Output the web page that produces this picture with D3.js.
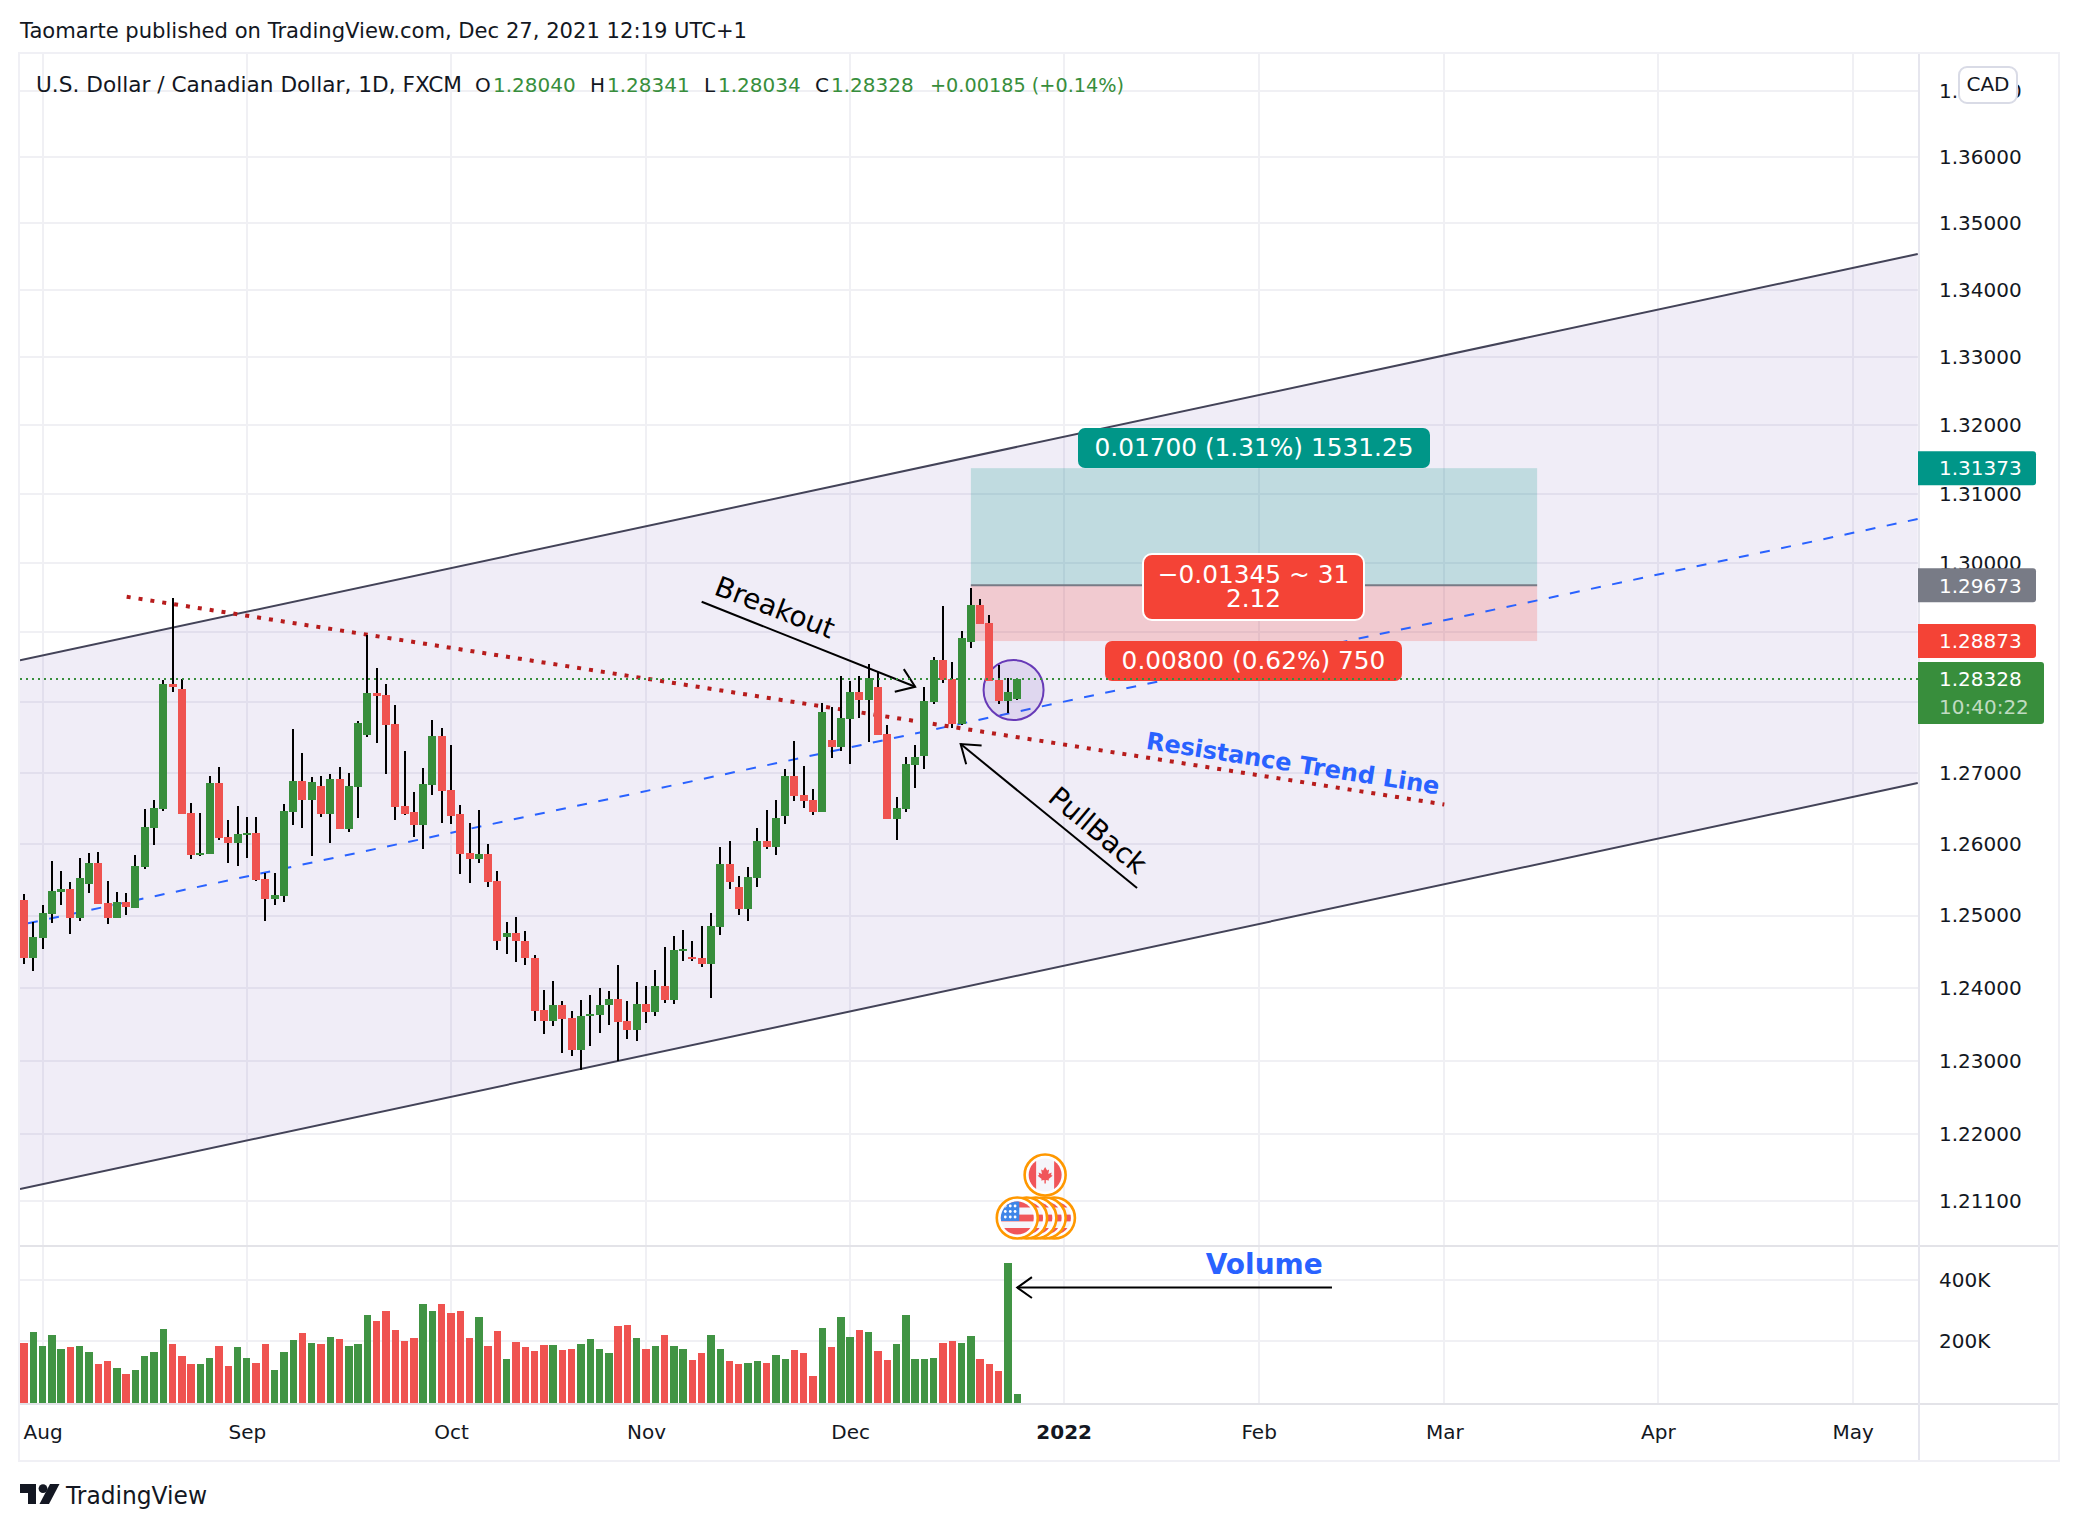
<!DOCTYPE html>
<html><head><meta charset="utf-8">
<script src="https://cdn.jsdelivr.net/npm/d3@7"></script>
<style>html,body{margin:0;padding:0;background:#fff}svg{display:block}text{font-family:"DejaVu Sans",sans-serif}</style>
</head><body><div id="chart"></div>
<script>
// --- candles, one entry per trading day through Dec 27 2021
const opens=[1.25218,1.24406,1.24682,1.25028,1.25329,1.25370,1.24972,1.25444,1.25731,1.25176,1.24972,1.25190,1.25111,1.25681,1.26225,1.26493,1.28256,1.28185,1.26432,1.25843,1.25861,1.26854,1.26094,1.26009,1.26122,1.26150,1.25509,1.25236,1.25278,1.26451,1.26883,1.26620,1.26812,1.26423,1.26911,1.26211,1.26803,1.27538,1.28128,1.28099,1.27689,1.26530,1.26446,1.26268,1.26831,1.27519,1.26756,1.26418,1.25870,1.25792,1.25856,1.25481,1.24696,1.24760,1.24650,1.24415,1.23697,1.23550,1.23766,1.23587,1.23151,1.23606,1.23633,1.23757,1.23849,1.23546,1.23427,1.23780,1.23661,1.24028,1.23839,1.24507,1.24429,1.24415,1.24336,1.24848,1.25718,1.25398,1.25097,1.25528,1.26038,1.25958,1.26394,1.26953,1.26685,1.26615,1.26451,1.27462,1.27368,1.27764,1.28142,1.28033,1.28213,1.27547,1.26352,1.26493,1.27113,1.27241,1.28000,1.28597,1.28327,1.27693,1.28858,1.29387,1.29126,1.28313,1.28019,1.28040];
const highs=[1.25301,1.24912,1.25148,1.25759,1.25620,1.25468,1.25801,1.25870,1.25884,1.25481,1.25329,1.25315,1.25843,1.26488,1.26615,1.28313,1.29488,1.28327,1.26573,1.26432,1.26953,1.27080,1.26333,1.26530,1.26376,1.26376,1.25593,1.25593,1.26559,1.27618,1.27278,1.26939,1.26953,1.26981,1.27080,1.26995,1.27731,1.28953,1.28483,1.28256,1.27958,1.27307,1.26728,1.27066,1.27745,1.27632,1.27392,1.26545,1.26291,1.26474,1.25995,1.25620,1.24912,1.24982,1.24788,1.24456,1.23972,1.24097,1.23821,1.23683,1.23835,1.23904,1.24000,1.23959,1.24318,1.23821,1.24083,1.24028,1.24249,1.24567,1.24719,1.24802,1.24650,1.24857,1.25037,1.25954,1.26038,1.25551,1.25676,1.26221,1.26474,1.26615,1.27052,1.27448,1.27094,1.26770,1.27986,1.27929,1.28370,1.28298,1.28370,1.28540,1.28426,1.27675,1.26657,1.27222,1.27392,1.28213,1.28640,1.29372,1.28569,1.29010,1.29633,1.29474,1.29242,1.28526,1.28341,1.28341];
const lows=[1.24323,1.24226,1.24530,1.24903,1.25153,1.24751,1.24931,1.25319,1.25167,1.24889,1.24972,1.25014,1.25111,1.25653,1.25986,1.26465,1.28142,1.26423,1.25792,1.25829,1.25861,1.26056,1.25736,1.25694,1.25806,1.25481,1.24931,1.25153,1.25194,1.26263,1.26225,1.25833,1.26380,1.26014,1.26211,1.26169,1.26366,1.27509,1.27425,1.26986,1.26338,1.26408,1.26099,1.25931,1.26690,1.26296,1.26282,1.25583,1.25458,1.25736,1.25403,1.24516,1.24461,1.24350,1.24309,1.23550,1.23372,1.23482,1.23110,1.23069,1.22877,1.23206,1.23385,1.23495,1.23000,1.23303,1.23275,1.23523,1.23619,1.23798,1.23771,1.24364,1.24364,1.24281,1.23867,1.24724,1.25375,1.25014,1.24931,1.25403,1.25931,1.25847,1.26282,1.26606,1.26507,1.26408,1.26451,1.27212,1.27311,1.27127,1.27778,1.27439,1.27538,1.26352,1.26056,1.26451,1.26789,1.27052,1.27976,1.28275,1.27637,1.27679,1.28768,1.29116,1.28303,1.27976,1.27849,1.28034];
const closes=[1.24406,1.24696,1.25037,1.25343,1.25370,1.24972,1.25523,1.25731,1.25167,1.24972,1.25190,1.25125,1.25690,1.26235,1.26502,1.28256,1.28213,1.26423,1.25847,1.25870,1.26854,1.26084,1.26009,1.26136,1.26150,1.25495,1.25236,1.25287,1.26460,1.26883,1.26620,1.26869,1.26423,1.26911,1.26211,1.26812,1.27703,1.28128,1.28090,1.27679,1.26521,1.26423,1.26268,1.26840,1.27519,1.26746,1.26394,1.25861,1.25792,1.25856,1.25472,1.24641,1.24760,1.24641,1.24406,1.23688,1.23550,1.23766,1.23578,1.23151,1.23615,1.23642,1.23766,1.23849,1.23537,1.23427,1.23780,1.23661,1.24028,1.23839,1.24525,1.24535,1.24401,1.24336,1.24857,1.25718,1.25472,1.25097,1.25537,1.26038,1.25958,1.26361,1.26953,1.26676,1.26606,1.26451,1.27858,1.27368,1.27774,1.28142,1.28033,1.28341,1.27538,1.26352,1.26502,1.27123,1.27222,1.28014,1.28597,1.28317,1.27693,1.28910,1.29387,1.29116,1.28303,1.28019,1.28142,1.28328];
const volumes=[192,229,182,219,173,179,182,163,123,133,110,90,103,149,163,238,189,149,123,123,143,182,117,179,143,126,189,103,163,202,225,192,189,212,205,182,189,285,265,298,235,199,209,321,298,321,291,298,209,278,182,232,140,196,179,166,186,186,169,173,189,205,173,159,248,252,209,173,182,219,182,173,136,159,219,173,133,123,126,133,126,153,140,169,159,84,242,179,278,212,235,229,166,136,189,285,140,140,143,192,199,192,215,140,123,100,456,24];

// --- axes
const priceTicks=[1.37,1.36,1.35,1.34,1.33,1.32,1.31,1.30,1.29,1.28,1.27,1.26,1.25,1.24,1.23,1.22,1.211];
const volumeTicks=[400,200];
const timeTickIdx=[2,24,46,67,89,112,133,153,176,197];
const timeTickLabels=["Aug","Sep","Oct","Nov","Dec","2022","Feb","Mar","Apr","May"];

// --- drawings: [bar index, price]
const channelTop=[[-0.43,1.28597],[204,1.34538]];
const channelBottom=[[-0.43,1.21259],[204,1.26855]];
const resistance=[[11.06,1.29509],[153,1.26553]];
const midline=[[0.43,1.24893],[204,1.30633]];
const arrowBreakout=[[73,1.29437],[96,1.28220]];
const arrowPullback=[[119.9,1.25384],[100.9,1.27406]];
const arrowVolume=[[140.9,375],[107,375]];
const positionIdx=[102,163];
const targetPrice=1.31373, entryPrice=1.29673, stopPrice=1.28873, lastPrice=1.28328;
const circleAt=[106.6,1.28173];
const usEventIdx=[107,108,109,110,111];
const caEventIdx=[110];
const titleText="Taomarte published on TradingView.com, Dec 27, 2021 12:19 UTC+1";
const symbolText="U.S. Dollar / Canadian Dollar, 1D, FXCM";
const ohlcKeys=["O","H","L","C"];
const ohlcVals=["1.28040","1.28341","1.28034","1.28328"];
const changeText="+0.00185 (+0.14%)";

const W=2078,H=1530;
const L=20,R=1918,T=54,PB=1246,VB=1403,AXR=2058,BOT=1460;
const GREEN="#388e3c",RED="#ef5350",TXT="#131722",BLUE="#2962ff";

const svg=d3.select("#chart").append("svg").attr("width",W).attr("height",H).attr("viewBox",`0 0 ${W} ${H}`);
svg.append("rect").attr("width",W).attr("height",H).attr("fill","#fff");

const x=d3.scaleLinear().domain([0,1]).range([24,33.283]);
const y=d3.scaleLog().domain([1.30,1.23]).range([562.7,1060.7]);
const v=d3.scaleLinear().domain([200,400]).range([1340.7,1280]);

const defs=svg.append("defs");
defs.append("clipPath").attr("id","pane").append("rect").attr("x",L).attr("y",T).attr("width",R-L).attr("height",PB-T);
defs.append("clipPath").attr("id","vpane").append("rect").attr("x",L).attr("y",PB).attr("width",R-L).attr("height",VB-PB);
defs.append("clipPath").attr("id","flagclip").append("circle").attr("r",16.5);

// grid
const grid=svg.append("g").attr("stroke","#f0f0f4").attr("stroke-width",2).attr("shape-rendering","crispEdges");
grid.selectAll(".gy").data(priceTicks).join("line").attr("x1",L).attr("x2",R).attr("y1",d=>Math.round(y(d))).attr("y2",d=>Math.round(y(d)));
grid.selectAll(".gv").data(volumeTicks).join("line").attr("x1",L).attr("x2",R).attr("y1",d=>Math.round(v(d))).attr("y2",d=>Math.round(v(d)));
grid.selectAll(".gx").data(timeTickIdx).join("line").attr("y1",T).attr("y2",VB).attr("x1",d=>Math.round(x(d))).attr("x2",d=>Math.round(x(d)));

// main pane drawings
const P=d=>[x(d[0]),y(d[1])];
const main=svg.append("g").attr("clip-path","url(#pane)");
const line=d3.line();
main.append("path").attr("d",line([P(channelTop[0]),P(channelTop[1]),P(channelBottom[1]),P(channelBottom[0])])+"Z").attr("fill","rgba(106,78,180,0.1)");
[channelTop,channelBottom].forEach(c=>main.append("path").attr("d",line(c.map(P))).attr("fill","none").attr("stroke","#434358").attr("stroke-width",2));

const bx0=x(positionIdx[0]),bx1=x(positionIdx[1]);
main.append("rect").attr("x",bx0).attr("width",bx1-bx0).attr("y",y(targetPrice)).attr("height",y(entryPrice)-y(targetPrice)).attr("fill","rgba(0,150,136,0.2)");
main.append("rect").attr("x",bx0).attr("width",bx1-bx0).attr("y",y(entryPrice)).attr("height",y(stopPrice)-y(entryPrice)).attr("fill","rgba(244,67,54,0.2)");
main.append("line").attr("x1",bx0).attr("x2",bx1).attr("y1",y(entryPrice)).attr("y2",y(entryPrice)).attr("stroke","#787b86").attr("stroke-width",2);

main.append("path").attr("d",line(midline.map(P))).attr("fill","none").attr("stroke",BLUE).attr("stroke-width",2).attr("stroke-dasharray","10 11.6");
main.append("path").attr("d",line(resistance.map(P))).attr("fill","none").attr("stroke","#b71c1c").attr("stroke-width",4).attr("stroke-dasharray","4 8");

main.append("circle").attr("cx",x(circleAt[0])).attr("cy",y(circleAt[1])).attr("r",30).attr("fill","rgba(103,58,183,0.12)").attr("stroke","#673ab7").attr("stroke-width",2);

function arrow(g,a,b,len){
  const ang=Math.atan2(b[1]-a[1],b[0]-a[0]),sp=0.62;
  const bar=s=>[b[0]-len*Math.cos(ang+s*sp),b[1]-len*Math.sin(ang+s*sp)];
  g.append("path").attr("d",line([a,b])).attr("fill","none").attr("stroke","#000").attr("stroke-width",2);
  g.append("path").attr("d",line([bar(1),b,bar(-1)])).attr("fill","none").attr("stroke","#000").attr("stroke-width",2);
}
arrow(main,P(arrowBreakout[0]),P(arrowBreakout[1]),21);
arrow(main,P(arrowPullback[0]),P(arrowPullback[1]),21);

function rotText(g,s,at,rot,size,color,weight){
  g.append("text").attr("transform",`translate(${at[0]},${at[1]}) rotate(${rot})`).attr("text-anchor","middle").attr("dy","0.36em")
   .attr("font-size",size).attr("fill",color).attr("font-weight",weight||"normal").text(s);
}
rotText(svg,"Breakout",P([80.9,1.29362]),21,28,"#000");
rotText(svg,"PullBack",P([115.7,1.26195]),40,28,"#000");
rotText(svg,"Resistance Trend Line",P([136.7,1.27137]),8.9,24,BLUE,"bold");

// candles
const candles=d3.range(opens.length).map(i=>({i,o:opens[i],h:highs[i],l:lows[i],c:closes[i],vol:volumes[i]}));
const cg=svg.append("g").attr("clip-path","url(#pane)").attr("shape-rendering","crispEdges");
cg.selectAll(".w").data(candles).join("rect").attr("fill","#000").attr("width",2)
  .attr("x",d=>Math.round(x(d.i))-1).attr("y",d=>y(d.h)).attr("height",d=>Math.max(0,y(d.l)-y(d.h)));
cg.selectAll(".b").data(candles).join("rect").attr("width",8)
  .attr("fill",d=>d.c>=d.o?GREEN:RED)
  .attr("x",d=>Math.round(x(d.i))-4)
  .attr("y",d=>y(Math.max(d.o,d.c)))
  .attr("height",d=>Math.max(2,Math.abs(y(d.o)-y(d.c))));

// flags
const leaf="M0,-8 L2,-4.5 L4,-5.5 L3.2,-1 L6.5,-2.5 L6,0 L7.5,0.8 L3.5,4 L4,5.5 L0.7,5 L0.7,8.5 L-0.7,8.5 L-0.7,5 L-4,5.5 L-3.5,4 L-7.5,0.8 L-6,0 L-6.5,-2.5 L-3.2,-1 L-4,-5.5 L-2,-4.5 Z";
function usFlag(cx,cy){
  const g=svg.append("g").attr("transform",`translate(${cx},${cy})`);
  g.append("circle").attr("r",20.5).attr("fill","#fff").attr("stroke","#ff9800").attr("stroke-width",2.6);
  const f=g.append("g").attr("clip-path","url(#flagclip)");
  f.append("rect").attr("x",-17).attr("y",-17).attr("width",34).attr("height",34).attr("fill","#f5f5fb");
  [[-17,6.5],[-3.4,6.8],[10,7]].forEach(r=>f.append("rect").attr("x",-17).attr("width",34).attr("y",r[0]).attr("height",r[1]).attr("fill","#f0555a"));
  f.append("rect").attr("x",-17).attr("y",-17).attr("width",19).attr("height",20).attr("fill","#3f86e8");
  [-12,-6.5,-1].forEach(yy=>[-12,-7,-2.2].forEach(xx=>f.append("circle").attr("cx",xx).attr("cy",yy).attr("r",1.4).attr("fill","#fff")));
}
function caFlag(cx,cy){
  const g=svg.append("g").attr("transform",`translate(${cx},${cy})`);
  g.append("circle").attr("r",20.5).attr("fill","#fff").attr("stroke","#ff9800").attr("stroke-width",2.6);
  const f=g.append("g").attr("clip-path","url(#flagclip)");
  f.append("rect").attr("x",-17).attr("y",-17).attr("width",34).attr("height",34).attr("fill","#f5f5fb");
  f.append("rect").attr("x",-17).attr("y",-17).attr("width",8).attr("height",34).attr("fill","#f0555a");
  f.append("rect").attr("x",9).attr("y",-17).attr("width",8).attr("height",34).attr("fill","#f0555a");
  f.append("path").attr("d",leaf).attr("fill","#f0555a");
}
usEventIdx.slice().reverse().forEach(i=>usFlag(x(i),1218));
caEventIdx.forEach(i=>caFlag(x(i),1175));

// position labels
function labelBox(x0,x1,y0,y1,fill,lines,size,border){
  svg.append("rect").attr("x",x0).attr("y",y0).attr("width",x1-x0).attr("height",y1-y0).attr("rx",border?9:7)
    .attr("fill",fill).attr("stroke",border?"#fff":"none").attr("stroke-width",border?2:0);
  lines.forEach((s,k)=>svg.append("text").attr("x",(x0+x1)/2).attr("y",(y0+y1)/2-1+(k-(lines.length-1)/2)*24).attr("dy","0.36em")
    .attr("text-anchor","middle").attr("font-size",size).attr("fill","#fff").text(s));
}
labelBox(1078,1430,428,468,"#009688",["0.01700 (1.31%) 1531.25"],24.8);
labelBox(1143,1364,554,620,"#f44336",["\u22120.01345 ~ 31","2.12"],24.8,true);
labelBox(1105,1402,641,681,"#f44336",["0.00800 (0.62%) 750"],24.8);

// last price line
svg.append("line").attr("x1",L).attr("x2",R).attr("y1",y(lastPrice)).attr("y2",y(lastPrice)).attr("stroke",GREEN).attr("stroke-width",2).attr("stroke-dasharray","2 4").attr("shape-rendering","crispEdges");

// volume pane
const vg=svg.append("g").attr("clip-path","url(#vpane)").attr("shape-rendering","crispEdges");
vg.selectAll("rect").data(candles).join("rect").attr("width",7.4)
  .attr("fill",d=>d.c>=d.o?"#419444":"#ef5350")
  .attr("x",d=>x(d.i)-3.7).attr("y",d=>v(d.vol)).attr("height",d=>VB-v(d.vol));
arrow(svg,[x(arrowVolume[0][0]),v(arrowVolume[0][1])],[x(arrowVolume[1][0]),v(arrowVolume[1][1])],18);
rotText(svg,"Volume",[x(133.6),v(453)],0,28,BLUE,"bold");

// frame lines
const fr=svg.append("g").attr("shape-rendering","crispEdges");
fr.append("rect").attr("x",L-1).attr("y",T-1).attr("width",AXR-L+2).attr("height",BOT-T+2).attr("fill","none").attr("stroke","#f0f0f5").attr("stroke-width",2);
fr.append("line").attr("x1",L).attr("x2",AXR).attr("y1",PB).attr("y2",PB).attr("stroke","#e3e3e8").attr("stroke-width",2);
fr.append("line").attr("x1",L).attr("x2",AXR).attr("y1",VB+1).attr("y2",VB+1).attr("stroke","#e3e3e8").attr("stroke-width",2);
fr.append("line").attr("x1",R+1).attr("x2",R+1).attr("y1",T).attr("y2",BOT).attr("stroke","#e6e6ee").attr("stroke-width",2);

// axes
const styleAxis=g=>{g.select(".domain").remove();g.selectAll("line").remove();
  g.selectAll("text").attr("font-family",'"DejaVu Sans",sans-serif').attr("font-size",20).attr("fill",TXT);};
svg.append("g").attr("transform",`translate(${R},0)`).call(d3.axisRight(y).tickValues(priceTicks).tickFormat(d=>d.toFixed(5)).tickSize(0).tickPadding(21)).call(styleAxis);
svg.append("g").attr("transform",`translate(${R},0)`).call(d3.axisRight(v).tickValues(volumeTicks).tickFormat(d=>d+"K").tickSize(0).tickPadding(21)).call(styleAxis);
const tx=svg.append("g").attr("transform",`translate(0,${VB})`).call(d3.axisBottom(x).tickValues(timeTickIdx).tickFormat((d,i)=>timeTickLabels[i]).tickSize(0).tickPadding(22)).call(styleAxis);
tx.selectAll("text").attr("font-weight",(d,i)=>timeTickLabels[i]==="2022"?"bold":"normal");

// axis price tags
function tag(price,fill,w,lines,top,h){
  const yc=y(price),y0=top!==undefined?top:yc-17,hh=h||34;
  svg.append("path").attr("d",`M${R},${y0}H${R+w-3}q3,0 3,3V${y0+hh-3}q0,3 -3,3H${R}Z`).attr("fill",fill);
  lines.forEach(l=>svg.append("text").attr("x",1939).attr("y",l.y!==undefined?l.y:yc).attr("dy","0.36em").attr("font-size",20).attr("fill","#fff").attr("fill-opacity",l.op||1).text(l.s));
}
tag(targetPrice,"#009688",118,[{s:targetPrice.toFixed(5)}]);
tag(entryPrice,"#787b86",118,[{s:entryPrice.toFixed(5)}]);
tag(stopPrice,"#f44336",118,[{s:stopPrice.toFixed(5)}]);
tag(lastPrice,GREEN,126,[{s:lastPrice.toFixed(5)},{s:"10:40:22",y:707,op:0.7}],662,62);

// CAD button
svg.append("rect").attr("x",1959).attr("y",67).attr("width",58).attr("height",36).attr("rx",8).attr("fill","#fff").attr("stroke","#d9dbe6").attr("stroke-width",2);
svg.append("text").attr("x",1988).attr("y",84).attr("dy","0.36em").attr("text-anchor","middle").attr("font-size",20).attr("fill",TXT).text("CAD");

// header
svg.append("text").attr("x",20).attr("y",31).attr("dy","0.36em").attr("font-size",20.5).attr("fill",TXT).attr("textLength",727).attr("lengthAdjust","spacingAndGlyphs").text(titleText);
svg.append("text").attr("x",36).attr("y",85).attr("dy","0.36em").attr("font-size",20.5).attr("fill",TXT).attr("textLength",426).attr("lengthAdjust","spacingAndGlyphs").text(symbolText);
const keyX=[475,590,704,815],valX=[493,607,718,831];
ohlcKeys.forEach((k,i)=>{
  svg.append("text").attr("x",keyX[i]).attr("y",85).attr("dy","0.36em").attr("font-size",20).attr("fill",TXT).text(k);
  svg.append("text").attr("x",valX[i]).attr("y",85).attr("dy","0.36em").attr("font-size",20).attr("fill",GREEN).text(ohlcVals[i]);
});
svg.append("text").attr("x",930).attr("y",85).attr("dy","0.36em").attr("font-size",20).attr("fill",GREEN).attr("textLength",194).attr("lengthAdjust","spacingAndGlyphs").text(changeText);

// logo
const logo=svg.append("g").attr("transform","translate(20,1484)").attr("fill","#131722");
logo.append("path").attr("d","M0,0H16V20H8V9H0Z");
logo.append("circle").attr("cx",23).attr("cy",4.6).attr("r",4.4);
logo.append("path").attr("d","M30,0H39.5L29,20H19.5Z");
svg.append("text").attr("x",66).attr("y",1495).attr("dy","0.36em").attr("font-size",24).attr("font-weight",500).attr("fill","#131722").attr("textLength",141).attr("lengthAdjust","spacingAndGlyphs").text("TradingView");
</script></body></html>
